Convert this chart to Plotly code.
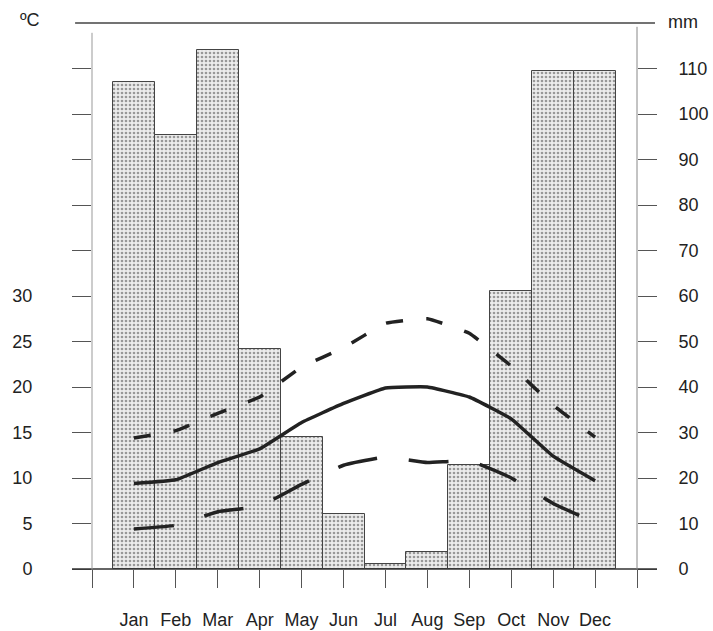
import plotly.graph_objects as go

months = ["Jan", "Feb", "Mar", "Apr", "May", "Jun", "Jul", "Aug", "Sep", "Oct", "Nov", "Dec"]
precip_mm = [107.0, 95.4, 114.0, 48.4, 29.1, 12.1, 1.2, 3.8, 22.9, 61.1, 109.4, 109.4]
t_mean = [9.4, 9.8, 11.7, 13.2, 16.1, 18.2, 19.9, 20.0, 18.9, 16.5, 12.4, 9.7]
t_max = [14.4, 15.2, 17.1, 18.9, 22.2, 24.3, 27.0, 27.5, 25.9, 22.3, 18.0, 14.5]
t_min = [4.4, 4.8, 6.3, 6.9, 9.3, 11.4, 12.3, 11.7, 11.9, 10.0, 7.2, 5.1]

temp_ticks = list(range(0, 60, 5))
temp_labels = [str(v) if v <= 30 else "" for v in temp_ticks]
mm_ticks = list(range(0, 120, 10))

x = list(range(12))
FONT = "Liberation Sans, Arial, sans-serif"
TXT = "#222222"
AX = "#555555"

fig = go.Figure()
fig.add_trace(go.Bar(
    x=x, y=precip_mm, width=1.0, yaxis="y",
    marker=dict(color="#eeeeee", line=dict(color="#444444", width=1),
                pattern=dict(shape=".", fgcolor="#444444", bgcolor="#ececec",
                             size=4, solidity=0.35)),
    showlegend=False, hoverinfo="skip",
))
fig.add_trace(go.Scatter(x=x, y=t_max, yaxis="y2", mode="lines",
                         line=dict(color="#222222", width=3.5, dash="17px,23px", shape="spline", smoothing=0.3),
                         showlegend=False))
fig.add_trace(go.Scatter(x=x, y=t_mean, yaxis="y2", mode="lines",
                         line=dict(color="#222222", width=3.5, shape="spline", smoothing=0.3),
                         showlegend=False))
fig.add_trace(go.Scatter(x=x, y=t_min, yaxis="y2", mode="lines",
                         line=dict(color="#222222", width=3.5, dash="40px,32px", shape="spline", smoothing=0.3),
                         showlegend=False))

fig.update_layout(
    width=713, height=631,
    margin=dict(l=92, r=76, t=23, b=62, autoexpand=False),
    paper_bgcolor="white", plot_bgcolor="white",
    font=dict(family=FONT, size=18, color=TXT),
    bargap=0,
    xaxis=dict(range=[-1, 12], tickvals=list(range(-1, 13)),
               ticktext=[""] + months + [""], automargin=False,
               ticks="outside", ticklen=18, tickcolor=AX, tickwidth=1,
               showgrid=False, zeroline=False, showline=False,
               ticklabelstandoff=16, tickfont=dict(size=18, color=TXT)),
    yaxis=dict(range=[0, 120], side="right", tickvals=mm_ticks, automargin=False,
               ticks="outside", ticklen=19, tickcolor=AX, tickwidth=1,
               showgrid=False, zeroline=False, showline=False,
               ticklabelstandoff=18, tickfont=dict(size=18, color=TXT)),
    yaxis2=dict(range=[0, 60], overlaying="y", side="left", tickvals=temp_ticks,
                ticktext=temp_labels, automargin=False,
                ticks="outside", ticklen=19, tickcolor=AX, tickwidth=1,
                showgrid=False, zeroline=False, showline=False,
                ticklabelstandoff=36, tickfont=dict(size=18, color=TXT)),
    shapes=[
        dict(type="line", xref="paper", yref="paper", x0=-0.0367, x1=1.0367, y0=0, y1=0,
             line=dict(color="#333333", width=1.5)),
        dict(type="line", xref="paper", yref="paper", x0=-0.031, x1=1.033, y0=1, y1=1,
             line=dict(color="#444444", width=1.5)),
        dict(type="line", xref="paper", yref="paper", x0=0, x1=0, y0=0, y1=0.982,
             line=dict(color="#999999", width=1)),
        dict(type="line", xref="paper", yref="paper", x0=1, x1=1, y0=0, y1=0.993,
             line=dict(color="#888888", width=1)),
    ],
    annotations=[
        dict(text="ºC", xref="paper", yref="paper", x=-0.114, y=1.005,
             xanchor="center", yanchor="middle", showarrow=False,
             font=dict(size=18, color=TXT)),
        dict(text="mm", xref="paper", yref="paper", x=1.084, y=1.002,
             xanchor="center", yanchor="middle", showarrow=False,
             font=dict(size=18, color=TXT)),
    ],
)

fig.write_html("out.html")
